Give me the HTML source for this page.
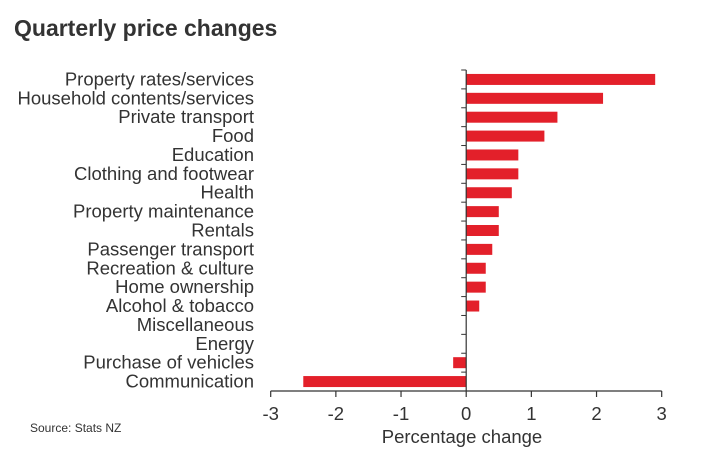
<!DOCTYPE html>
<html><head><meta charset="utf-8"><style>
body{margin:0;background:#fff;width:715px;height:469px;overflow:hidden;font-family:"Liberation Sans",sans-serif}
</style></head><body>
<svg width="715" height="469" id="c">
<text x="14" y="36" font-size="23" font-weight="bold" fill="#333">Quarterly price changes</text>
<text x="30" y="432" font-size="12" fill="#333">Source: Stats NZ</text>
<text x="462" y="443" font-size="18.5" fill="#333" text-anchor="middle">Percentage change</text>
</svg>
<script>
const categories=["Property rates/services","Household contents/services","Private transport","Food","Education","Clothing and footwear","Health","Property maintenance","Rentals","Passenger transport","Recreation & culture","Home ownership","Alcohol & tobacco","Miscellaneous","Energy","Purchase of vehicles","Communication"];
const values=[2.9,2.1,1.4,1.2,0.8,0.8,0.7,0.5,0.5,0.4,0.3,0.3,0.2,0,0,-0.2,-2.5];
const ticks=[-3,-2,-1,0,1,2,3];
const svg=document.getElementById('c');const NS='http://www.w3.org/2000/svg';
const x0=270.7,x1=661.7,yTop=70,yBot=391;
const xs=v=>x0+(v+3)/6*(x1-x0);
const rh=(yBot-yTop)/categories.length;
const ys=i=>yTop+i*rh;
function mk(t,a){const e=document.createElementNS(NS,t);for(const k in a)e.setAttribute(k,a[k]);svg.appendChild(e);return e;}
categories.forEach((c,i)=>{
 const v=values[i];
 const b=mk('rect',{x:Math.min(xs(0),xs(v)),y:ys(i)+rh/2-5.5,width:Math.abs(xs(v)-xs(0)),height:11,fill:'#e3202a'});
 
 
 const t=mk('text',{x:254,y:ys(i)+rh/2+6,'font-size':18.5,fill:'#333','text-anchor':'end'});
 t.textContent=c;
 
 
 const tk=mk('line',{x1:xs(0)-5,x2:xs(0),y1:ys(i),y2:ys(i),stroke:'#333','stroke-width':1});
 
 
});
const ya=mk('line',{x1:xs(0),x2:xs(0),y1:yTop,y2:yBot,stroke:'#333','stroke-width':1.2});


const xa=mk('line',{x1:x0,x2:x1,y1:yBot,y2:yBot,stroke:'#333','stroke-width':1.2});


ticks.forEach(v=>{
 const l=mk('line',{x1:xs(v),x2:xs(v),y1:yBot,y2:yBot+6,stroke:'#333','stroke-width':1.2});
 
 
 const t=mk('text',{x:xs(v),y:420,'font-size':18.5,fill:'#333','text-anchor':'middle'});
 t.textContent=v;
 
 
});
</script>
</body></html>
